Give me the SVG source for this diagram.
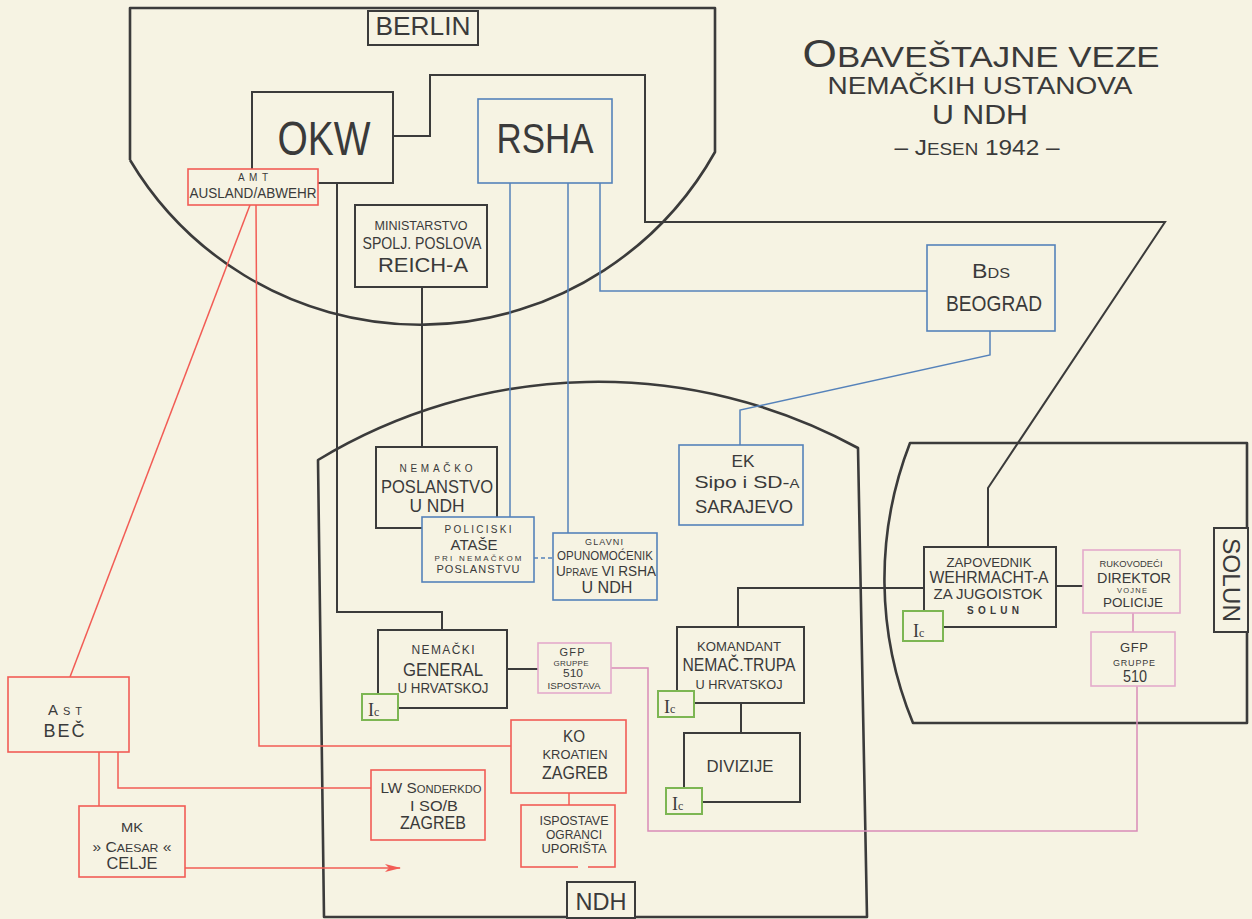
<svg xmlns="http://www.w3.org/2000/svg" width="1252" height="919" viewBox="0 0 1252 919">
<defs>
<style>
.t{font-family:"Liberation Sans","DejaVu Sans",sans-serif;fill:#3a3a3a;text-anchor:middle}
.reg{fill:none;stroke:#3b3b3b;stroke-width:2.6;stroke-linejoin:round}
.lbl{fill:#f6f3e3;stroke:#3b3b3b;stroke-width:2}
.bx{fill:#f6f3e3;stroke:#3b3b3b;stroke-width:2}
.bb{fill:#f6f3e3;stroke:#5582ba;stroke-width:1.6}
.br{fill:#f6f3e3;stroke:#f25c55;stroke-width:1.6}
.bp{fill:#f6f3e3;stroke:#e4aacb;stroke-width:1.6}
.bg{fill:#f6f3e3;stroke:#7db653;stroke-width:2}
.ck{fill:none;stroke:#3b3b3b;stroke-width:2}
.cb{fill:none;stroke:#5582ba;stroke-width:1.5}
.cr{fill:none;stroke:#f25c55;stroke-width:1.5}
.cp{fill:none;stroke:#d98cb8;stroke-width:1.5}
.ic{font-family:"Liberation Serif","DejaVu Serif",serif;fill:#3a3a3a}
</style>
<marker id="arr" markerWidth="16" markerHeight="10" refX="15" refY="5" orient="auto" markerUnits="userSpaceOnUse"><path d="M0,1 L16,5 L0,9 L4,5 Z" fill="#f25c55"/></marker>
</defs>
<rect x="0" y="0" width="1252" height="919" fill="#f6f3e3"/>

<g id="regions">
<path class="reg" d="M130,160 L130,8 L715,8 L715,152 A338,338 0 0 1 130,160"/>
<path class="reg" d="M318,460 A542,542 0 0 1 858,448 L867,917 L324,917 Z"/>
<path class="reg" d="M910,443 L1247,443 L1247,723 L913,723 A376,376 0 0 1 910,443 Z"/>
<rect class="lbl" x="368" y="11" width="110" height="34"/>
<text class="t" x="423" y="35" font-size="25" textLength="95" lengthAdjust="spacingAndGlyphs">BERLIN</text>
<rect class="lbl" x="567" y="882" width="68" height="36"/>
<text class="t" x="601" y="910" font-size="24" textLength="51" lengthAdjust="spacingAndGlyphs">NDH</text>
<rect class="lbl" x="1214" y="528" width="34" height="104"/>
<text class="t" x="1231" y="588" font-size="24" textLength="84" lengthAdjust="spacingAndGlyphs" transform="rotate(90 1231 580)">SOLUN</text>
</g>

<g id="title">
<text class="t" x="981" y="67" font-size="30" textLength="357" lengthAdjust="spacingAndGlyphs"><tspan font-size="38">O</tspan>BAVEŠTAJNE VEZE</text>
<text class="t" x="980" y="94" font-size="24" textLength="305" lengthAdjust="spacingAndGlyphs">NEMAČKIH USTANOVA</text>
<text class="t" x="980" y="124" font-size="27" textLength="96" lengthAdjust="spacingAndGlyphs">U NDH</text>
<text class="t" x="977" y="155" font-size="22" textLength="165" lengthAdjust="spacingAndGlyphs">– J<tspan font-size="17">ESEN</tspan> 1942 –</text>
</g>

<g id="connectors">
<path class="ck" d="M393,136 H430 V75 H645 V222 H1165 L988,488 V547"/>
<path class="ck" d="M337,183 V612 H442 V630"/>
<path class="ck" d="M422,287 V447"/>
<path class="ck" d="M507,669 H538"/>
<path class="ck" d="M1056,586 H1083"/>
<path class="ck" d="M924,588 H738 V627"/>
<path class="ck" d="M741,703 V733"/>
<path class="cb" d="M510,183 V517"/>
<path class="cb" d="M568,183 V533"/>
<path class="cb" d="M600,183 V291 H927"/>
<path class="cb" d="M990,331 V355 L740,410 V445"/>
<path class="cb" d="M534,558 H553" stroke-dasharray="4,3"/>
<path class="cr" d="M250,205 L70,677"/>
<path class="cr" d="M256,205 L259,746 H511"/>
<path class="cr" d="M99,752 V806"/>
<path class="cr" d="M118,752 V788 H371"/>
<path class="cr" d="M185,868 H400" marker-end="url(#arr)"/>
<path class="cr" d="M569,793 V805"/>
<path class="cp" d="M611,668 H648 V831 H1137 V686"/>
<path class="cp" d="M1133,613 V632"/>
</g>

<g id="okw">
<rect class="bx" x="252" y="92" width="141" height="91"/>
<text class="t" x="324" y="155" font-size="48" textLength="93" lengthAdjust="spacingAndGlyphs">OKW</text>
</g>
<g id="amt">
<rect class="br" x="188" y="169" width="130" height="36"/>
<text class="t" x="253" y="181" font-size="10" textLength="30" lengthAdjust="spacing">AMT</text>
<text class="t" x="253" y="198" font-size="15" textLength="127" lengthAdjust="spacingAndGlyphs">AUSLAND/ABWEHR</text>
</g>
<g id="rsha">
<rect class="bb" x="478" y="99" width="134" height="84"/>
<text class="t" x="545" y="153" font-size="42" textLength="97" lengthAdjust="spacingAndGlyphs">RSHA</text>
</g>
<g id="ministarstvo">
<rect class="bx" x="355" y="205" width="132" height="82"/>
<text class="t" x="421" y="230" font-size="12" textLength="93" lengthAdjust="spacingAndGlyphs">MINISTARSTVO</text>
<text class="t" x="422" y="249" font-size="17" textLength="119" lengthAdjust="spacingAndGlyphs">SPOLJ. POSLOVA</text>
<text class="t" x="423" y="272" font-size="21" textLength="90" lengthAdjust="spacingAndGlyphs">REICH-A</text>
</g>
<g id="poslanstvo">
<rect class="bx" x="376" y="447" width="121" height="81"/>
<text class="t" x="436" y="472" font-size="10" textLength="73" lengthAdjust="spacing">NEMAČKO</text>
<text class="t" x="437" y="493" font-size="18" textLength="112" lengthAdjust="spacingAndGlyphs">POSLANSTVO</text>
<text class="t" x="437" y="512" font-size="18" textLength="55" lengthAdjust="spacingAndGlyphs">U NDH</text>
</g>
<g id="atase">
<rect class="bb" x="422" y="517" width="112" height="65"/>
<text class="t" x="478" y="533" font-size="10" textLength="67" lengthAdjust="spacing">POLICISKI</text>
<text class="t" x="474" y="550" font-size="15" textLength="47" lengthAdjust="spacingAndGlyphs">ATAŠE</text>
<text class="t" x="478" y="561" font-size="8" textLength="87" lengthAdjust="spacing">PRI NEMAČKOM</text>
<text class="t" x="478" y="573" font-size="11" textLength="83" lengthAdjust="spacing">POSLANSTVU</text>
</g>
<g id="opunomocenik">
<rect class="bb" x="553" y="533" width="104" height="67"/>
<text class="t" x="604" y="545" font-size="9" textLength="38" lengthAdjust="spacing">GLAVNI</text>
<text class="t" x="605" y="560" font-size="13" textLength="96" lengthAdjust="spacingAndGlyphs">OPUNOMOĆENIK</text>
<text class="t" x="606" y="576" font-size="14" textLength="100" lengthAdjust="spacingAndGlyphs">U<tspan font-size="10">PRAVE</tspan> VI RSHA</text>
<text class="t" x="607" y="593" font-size="17" textLength="51" lengthAdjust="spacingAndGlyphs">U NDH</text>
</g>
<g id="bds">
<rect class="bb" x="927" y="245" width="128" height="86"/>
<text class="t" x="991" y="278" font-size="20" textLength="38" lengthAdjust="spacingAndGlyphs">B<tspan font-size="14">DS</tspan></text>
<text class="t" x="994" y="311" font-size="22" textLength="96" lengthAdjust="spacingAndGlyphs">BEOGRAD</text>
</g>
<g id="ek">
<rect class="bb" x="679" y="445" width="124" height="80"/>
<text class="t" x="743" y="467" font-size="17" textLength="23" lengthAdjust="spacingAndGlyphs">EK</text>
<text class="t" x="747" y="488" font-size="17" textLength="105" lengthAdjust="spacingAndGlyphs">Sipo i SD-<tspan font-size="12">A</tspan></text>
<text class="t" x="744" y="513" font-size="19" textLength="98" lengthAdjust="spacingAndGlyphs">SARAJEVO</text>
</g>
<g id="zapovednik">
<rect class="bx" x="924" y="547" width="132" height="80"/>
<text class="t" x="989" y="567" font-size="12" textLength="85" lengthAdjust="spacingAndGlyphs">ZAPOVEDNIK</text>
<text class="t" x="989" y="583" font-size="16" textLength="119" lengthAdjust="spacingAndGlyphs">WEHRMACHT-A</text>
<text class="t" x="988" y="599" font-size="14" textLength="109" lengthAdjust="spacingAndGlyphs">ZA JUGOISTOK</text>
<text class="t" x="993" y="614" font-size="10" font-weight="bold" textLength="52" lengthAdjust="spacing">SOLUN</text>
<rect class="bg" x="903" y="611" width="40" height="30"/>
<text class="ic" x="913" y="637" font-size="18">I<tspan font-size="12">c</tspan></text>
</g>
<g id="rukovodeci">
<rect class="bp" x="1083" y="550" width="97" height="63"/>
<text class="t" x="1131" y="567" font-size="9" textLength="63" lengthAdjust="spacingAndGlyphs">RUKOVODEĆI</text>
<text class="t" x="1134" y="583" font-size="15" textLength="74" lengthAdjust="spacingAndGlyphs">DIREKTOR</text>
<text class="t" x="1132" y="593" font-size="7.5" textLength="30" lengthAdjust="spacing">VOJNE</text>
<text class="t" x="1133" y="607" font-size="13" textLength="60" lengthAdjust="spacingAndGlyphs">POLICIJE</text>
</g>
<g id="gfp510">
<rect class="bp" x="1091" y="632" width="84" height="54"/>
<text class="t" x="1134" y="652" font-size="13" textLength="28" lengthAdjust="spacing">GFP</text>
<text class="t" x="1134" y="666" font-size="9" textLength="42" lengthAdjust="spacing">GRUPPE</text>
<text class="t" x="1135" y="682" font-size="16" textLength="24" lengthAdjust="spacingAndGlyphs">510</text>
</g>
<g id="general">
<rect class="bx" x="378" y="630" width="129" height="78"/>
<text class="t" x="443" y="654" font-size="12" textLength="63" lengthAdjust="spacing">NEMAČKI</text>
<text class="t" x="443" y="676" font-size="19" textLength="80" lengthAdjust="spacingAndGlyphs">GENERAL</text>
<text class="t" x="443" y="693" font-size="14" textLength="91" lengthAdjust="spacingAndGlyphs">U HRVATSKOJ</text>
<rect class="bg" x="362" y="694" width="36" height="26"/>
<text class="ic" x="368" y="716" font-size="18">I<tspan font-size="12">c</tspan></text>
</g>
<g id="gfpisp">
<rect class="bp" x="538" y="643" width="73" height="50"/>
<text class="t" x="572" y="656" font-size="11" textLength="25" lengthAdjust="spacing">GFP</text>
<text class="t" x="571" y="666" font-size="8" textLength="35" lengthAdjust="spacing">GRUPPE</text>
<text class="t" x="573" y="677" font-size="11" textLength="20" lengthAdjust="spacingAndGlyphs">510</text>
<text class="t" x="574" y="689" font-size="9" textLength="53" lengthAdjust="spacingAndGlyphs">ISPOSTAVA</text>
</g>
<g id="komandant">
<rect class="bx" x="677" y="627" width="127" height="76"/>
<text class="t" x="739" y="651" font-size="13" textLength="84" lengthAdjust="spacingAndGlyphs">KOMANDANT</text>
<text class="t" x="739" y="671" font-size="19" textLength="113" lengthAdjust="spacingAndGlyphs">NEMAČ.TRUPA</text>
<text class="t" x="739" y="689" font-size="13" textLength="87" lengthAdjust="spacingAndGlyphs">U HRVATSKOJ</text>
<rect class="bg" x="658" y="691" width="36" height="26"/>
<text class="ic" x="664" y="713" font-size="18">I<tspan font-size="12">c</tspan></text>
</g>
<g id="divizije">
<rect class="bx" x="684" y="733" width="116" height="69"/>
<text class="t" x="740" y="772" font-size="16" textLength="67" lengthAdjust="spacingAndGlyphs">DIVIZIJE</text>
<rect class="bg" x="666" y="788" width="36" height="26"/>
<text class="ic" x="672" y="810" font-size="18">I<tspan font-size="12">c</tspan></text>
</g>
<g id="ko">
<rect class="br" x="511" y="720" width="115" height="73"/>
<text class="t" x="574" y="742" font-size="16" textLength="22" lengthAdjust="spacingAndGlyphs">KO</text>
<text class="t" x="575" y="759" font-size="13" textLength="65" lengthAdjust="spacingAndGlyphs">KROATIEN</text>
<text class="t" x="575" y="779" font-size="19" textLength="66" lengthAdjust="spacingAndGlyphs">ZAGREB</text>
</g>
<g id="ispostave">
<rect class="br" x="521" y="805" width="94" height="62"/>
<line x1="578" y1="867" x2="588" y2="867" stroke="#f6f3e3" stroke-width="3"/>
<text class="t" x="574" y="825" font-size="12" textLength="69" lengthAdjust="spacingAndGlyphs">ISPOSTAVE</text>
<text class="t" x="574" y="839" font-size="12" textLength="56" lengthAdjust="spacingAndGlyphs">OGRANCI</text>
<text class="t" x="574" y="853" font-size="12" textLength="65" lengthAdjust="spacingAndGlyphs">UPORIŠTA</text>
</g>
<g id="lw">
<rect class="br" x="371" y="770" width="114" height="70"/>
<text class="t" x="431" y="793" font-size="15" textLength="101" lengthAdjust="spacingAndGlyphs">LW S<tspan font-size="11">ONDERKDO</tspan></text>
<text class="t" x="434" y="811" font-size="15" textLength="48" lengthAdjust="spacingAndGlyphs">I SO/B</text>
<text class="t" x="433" y="829" font-size="19" textLength="66" lengthAdjust="spacingAndGlyphs">ZAGREB</text>
</g>
<g id="ast">
<rect class="br" x="8" y="677" width="121" height="75"/>
<text class="t" x="65" y="715" font-size="15" textLength="34" lengthAdjust="spacing">A<tspan font-size="11">ST</tspan></text>
<text class="t" x="64" y="737" font-size="18" textLength="41" lengthAdjust="spacing">BEČ</text>
</g>
<g id="mk">
<rect class="br" x="79" y="806" width="106" height="71"/>
<text class="t" x="132" y="832" font-size="13" textLength="22" lengthAdjust="spacingAndGlyphs">MK</text>
<text class="t" x="132" y="852" font-size="14" textLength="79" lengthAdjust="spacingAndGlyphs">» C<tspan font-size="11">AESAR</tspan> «</text>
<text class="t" x="132" y="869" font-size="16" textLength="51" lengthAdjust="spacingAndGlyphs">CELJE</text>
</g>
</svg>
